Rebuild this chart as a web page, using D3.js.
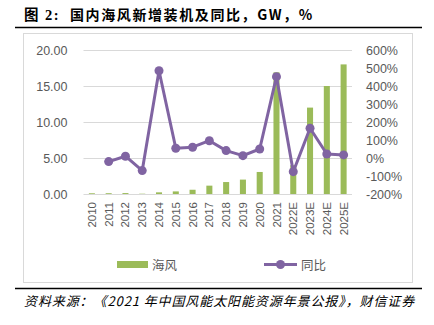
<!DOCTYPE html>
<html><head><meta charset="utf-8">
<script src="https://cdn.jsdelivr.net/npm/d3@7"></script>
<style>
body{margin:0;background:#fff;}
svg{display:block;}
</style></head>
<body>
<svg id="c" width="434" height="325"></svg>
<script>
const categories = ["2010","2011","2012","2013","2014","2015","2016","2017","2018","2019","2020","2021","2022E","2023E","2024E","2025E"];
const installed = [0.10,0.11,0.13,0.04,0.23,0.36,0.59,1.16,1.66,2.0,3.06,16.9,4.0,12.0,15.0,18.0];
const yoy = [null,-20,10,-70,485,54,60,96,41,13,50,452,-76,165,22,17];
const leftTicks = [0,5,10,15,20];
const rightTicks = [-200,-100,0,100,200,300,400,500,600];
const titlePrefix = "图 2:";
const titleText = "国内海风新增装机及同比，GW，%";
const sourceText = "资料来源：《2021 年中国风能太阳能资源年景公报》，财信证券";
const legendLabels = ["海风","同比"];

const svg = d3.select("#c");
const green = "#9BBB59", purple = "#8064A2", txt = "#595959";
const fontCN = "'Noto Sans CJK SC', sans-serif";
const fontNum = "'Liberation Sans', Arial, sans-serif";

// title
svg.append("text").attr("x",24).attr("y",20).attr("font-family","'Liberation Serif','Noto Sans CJK SC',serif")
  .attr("font-size",14.5).attr("font-weight","bold").attr("fill","#000").attr("letter-spacing",1.5).text(titlePrefix);
svg.append("text").attr("x",70).attr("y",20).attr("font-family","'Noto Sans CJK SC',sans-serif")
  .attr("font-size",14).attr("font-weight","bold").attr("fill","#000").attr("letter-spacing",1.6).text(titleText);
svg.append("line").attr("x1",15).attr("x2",422).attr("y1",27.5).attr("y2",27.5).attr("stroke","#000").attr("stroke-width",1.5);
// chart box
svg.append("rect").attr("x",23.5).attr("y",33.5).attr("width",389).attr("height",249).attr("fill","#fff").attr("stroke","#d9d9d9");
svg.append("line").attr("x1",15).attr("x2",422).attr("y1",288.5).attr("y2",288.5).attr("stroke","#000").attr("stroke-width",1.5);
svg.append("text").attr("x",24).attr("y",306).attr("font-family",fontCN).attr("font-style","italic")
  .attr("font-size",13).attr("letter-spacing",0.9).attr("fill","#000").text(sourceText);

const x0 = 83.5, x1 = 352, yTop = 50, yBot = 194;
const x = d3.scaleBand().domain(categories).range([x0,x1]).paddingInner(0.64).paddingOuter(0.32);
const xc = d3.scaleBand().domain(categories).range([x0,x1]);
const yL = d3.scaleLinear().domain([0,20]).range([yBot,yTop]);
const yR = d3.scaleLinear().domain([-200,600]).range([yBot,yTop]);

// grid
svg.append("g").selectAll("line").data(leftTicks).join("line")
  .attr("x1",x0).attr("x2",x1).attr("y1",d=>Math.round(yL(d))+0.5).attr("y2",d=>Math.round(yL(d))+0.5)
  .attr("stroke","#d9d9d9").attr("stroke-width",1);

// left axis
const axL = svg.append("g").attr("transform",`translate(${x0},0)`)
  .call(d3.axisLeft(yL).tickValues(leftTicks).tickFormat(d3.format(".2f")).tickSize(0).tickPadding(16));
axL.select(".domain").remove();
axL.selectAll("text").attr("font-family",fontNum).attr("font-size",12.5).attr("fill",txt);

// right axis
const axR = svg.append("g").attr("transform",`translate(${x1},0)`)
  .call(d3.axisRight(yR).tickValues(rightTicks).tickFormat(d=>d+"%").tickSize(0).tickPadding(14));
axR.select(".domain").remove();
axR.selectAll("text").attr("font-family",fontNum).attr("font-size",12.5).attr("fill",txt);

// bars
svg.append("g").selectAll("rect").data(categories).join("rect")
  .attr("x",(d)=>x(d)).attr("width",x.bandwidth())
  .attr("y",(d,i)=>yL(installed[i])).attr("height",(d,i)=>yBot-yL(installed[i]))
  .attr("fill",green);

// x axis labels
const axB = svg.append("g").attr("transform",`translate(0,${yBot})`)
  .call(d3.axisBottom(xc).tickSize(0).tickPadding(0));
axB.select(".domain").remove();
axB.selectAll("text").attr("font-family",fontNum).attr("font-size",11.5).attr("fill",txt)
  .attr("transform","rotate(-90)").attr("text-anchor","end").attr("dy","0.35em").attr("x",-8).attr("y",0);

// line
const pts = categories.map((c,i)=>({c,v:yoy[i]})).filter(d=>d.v!==null);
const line = d3.line().x(d=>xc(d.c)+xc.bandwidth()/2).y(d=>yR(d.v));
svg.append("path").datum(pts).attr("d",line).attr("fill","none").attr("stroke",purple).attr("stroke-width",3).attr("stroke-linejoin","round");
svg.append("g").selectAll("circle").data(pts).join("circle")
  .attr("cx",d=>xc(d.c)+xc.bandwidth()/2).attr("cy",d=>yR(d.v)).attr("r",4.5).attr("fill",purple);

// legend
const lg = svg.append("g");
lg.append("rect").attr("x",117).attr("y",261).attr("width",31).attr("height",7).attr("fill",green);
lg.append("text").attr("x",152).attr("y",269.5).attr("font-family",fontCN).attr("font-size",12.5).attr("fill",txt).text(legendLabels[0]);
lg.append("line").attr("x1",264).attr("x2",297).attr("y1",264.5).attr("y2",264.5).attr("stroke",purple).attr("stroke-width",3);
lg.append("circle").attr("cx",280.5).attr("cy",264.5).attr("r",4.5).attr("fill",purple);
lg.append("text").attr("x",301).attr("y",269.5).attr("font-family",fontCN).attr("font-size",12.5).attr("fill",txt).text(legendLabels[1]);
</script>
</body></html>
